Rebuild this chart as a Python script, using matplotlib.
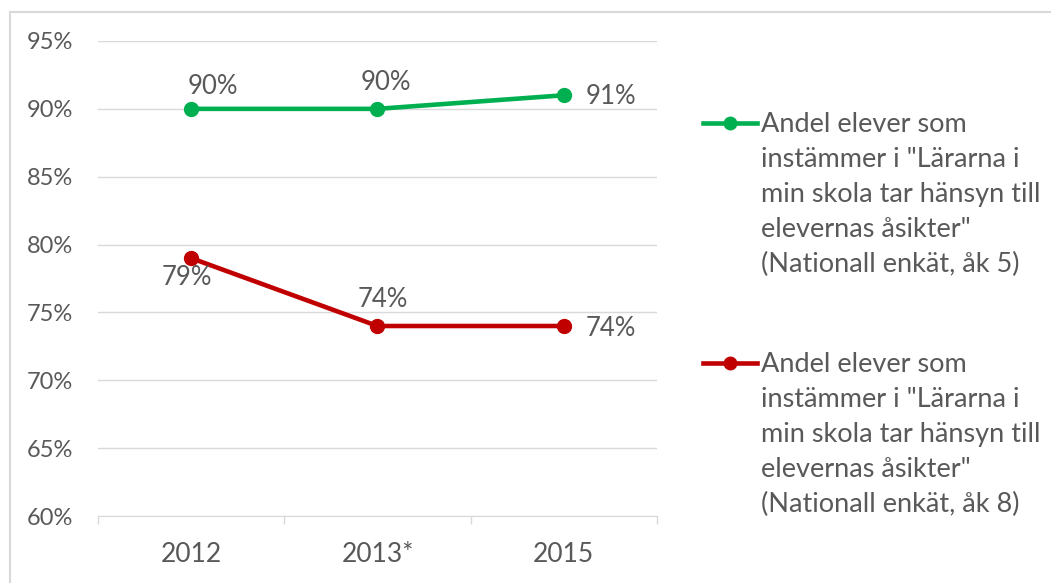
import matplotlib.pyplot as plt
from matplotlib.lines import Line2D

plt.rcParams['font.family'] = ['Lato', 'DejaVu Sans']

years = ['2012', '2013*', '2015']
ak5 = [90, 90, 91]
ak8 = [79, 74, 74]
legend_ak5 = 'Andel elever som\ninstämmer i "Lärarna i\nmin skola tar hänsyn till\nelevernas åsikter"\n(Nationall enkät, åk 5)'
legend_ak8 = 'Andel elever som\ninstämmer i "Lärarna i\nmin skola tar hänsyn till\nelevernas åsikter"\n(Nationall enkät, åk 8)'

green = '#00B050'
red = '#C00000'
txt = '#595959'
grid = '#D9D9D9'

fig = plt.figure(figsize=(10.51, 5.83), dpi=100)
ax = fig.add_axes([0.0932, 0.1149, 0.5319, 0.8148])

x = list(range(len(years)))
ax.plot(x, ak5, color=green, lw=3.3, marker='o', ms=10, zorder=3)
ax.plot(x, ak8, color=red, lw=3.3, marker='o', ms=10, zorder=3)

# data labels (offsets in points)
off5 = [(16, 16), (6, 19), (34, -1)]
off8 = [(-3, -14), (4, 19), (34, -2)]
for i, v in enumerate(ak5):
    ax.annotate(f'{v}%', (i, v), xytext=off5[i], textcoords='offset points',
                ha='center', va='center', fontsize=18.5, color=txt)
for i, v in enumerate(ak8):
    ax.annotate(f'{v}%', (i, v), xytext=off8[i], textcoords='offset points',
                ha='center', va='center', fontsize=18.5, color=txt)

ax.set_xlim(-0.5, 2.5)
ax.set_ylim(60, 95)
ax.set_yticks(range(60, 96, 5))
ax.set_yticklabels([f'{t}%' for t in range(60, 96, 5)])
ax.yaxis.grid(True, color=grid, lw=1)
ax.set_axisbelow(True)
ax.set_xticks(x)
ax.set_xticklabels(years)
ax.set_xticks([-0.5, 0.5, 1.5, 2.5], minor=True)
ax.tick_params(axis='x', which='major', length=0, pad=19, labelsize=19, labelcolor=txt)
ax.tick_params(axis='x', which='minor', length=6, color=grid, width=1)
ax.tick_params(axis='y', length=0, pad=18, labelsize=17, labelcolor=txt)
for s in ['top', 'right', 'left']:
    ax.spines[s].set_visible(False)
ax.spines['bottom'].set_color(grid)

# legend drawn by hand so the marker sits on the first text line
for ytop, col, lab in [(123, green, legend_ak5), (363, red, legend_ak8)]:
    yf = 1 - ytop / 583
    fig.add_artist(Line2D([703 / 1051, 757 / 1051], [yf, yf], color=col, lw=3.3,
                          transform=fig.transFigure))
    fig.add_artist(Line2D([730 / 1051], [yf], color=col, marker='o', ms=9,
                          transform=fig.transFigure))
    fig.text(761 / 1051, yf + 11 / 583, lab, ha='left', va='top', fontsize=19.5,
             color=txt, linespacing=1.5)

# chart border (left and top visible)
fig.add_artist(Line2D([9.5 / 1051, 9.5 / 1051], [0, 1 - 12 / 583], color=grid, lw=1.5,
                      transform=fig.transFigure))
fig.add_artist(Line2D([9.5 / 1051, 1], [1 - 12 / 583, 1 - 12 / 583], color=grid, lw=1.5,
                      transform=fig.transFigure))

fig.savefig('out.png', dpi=100)
